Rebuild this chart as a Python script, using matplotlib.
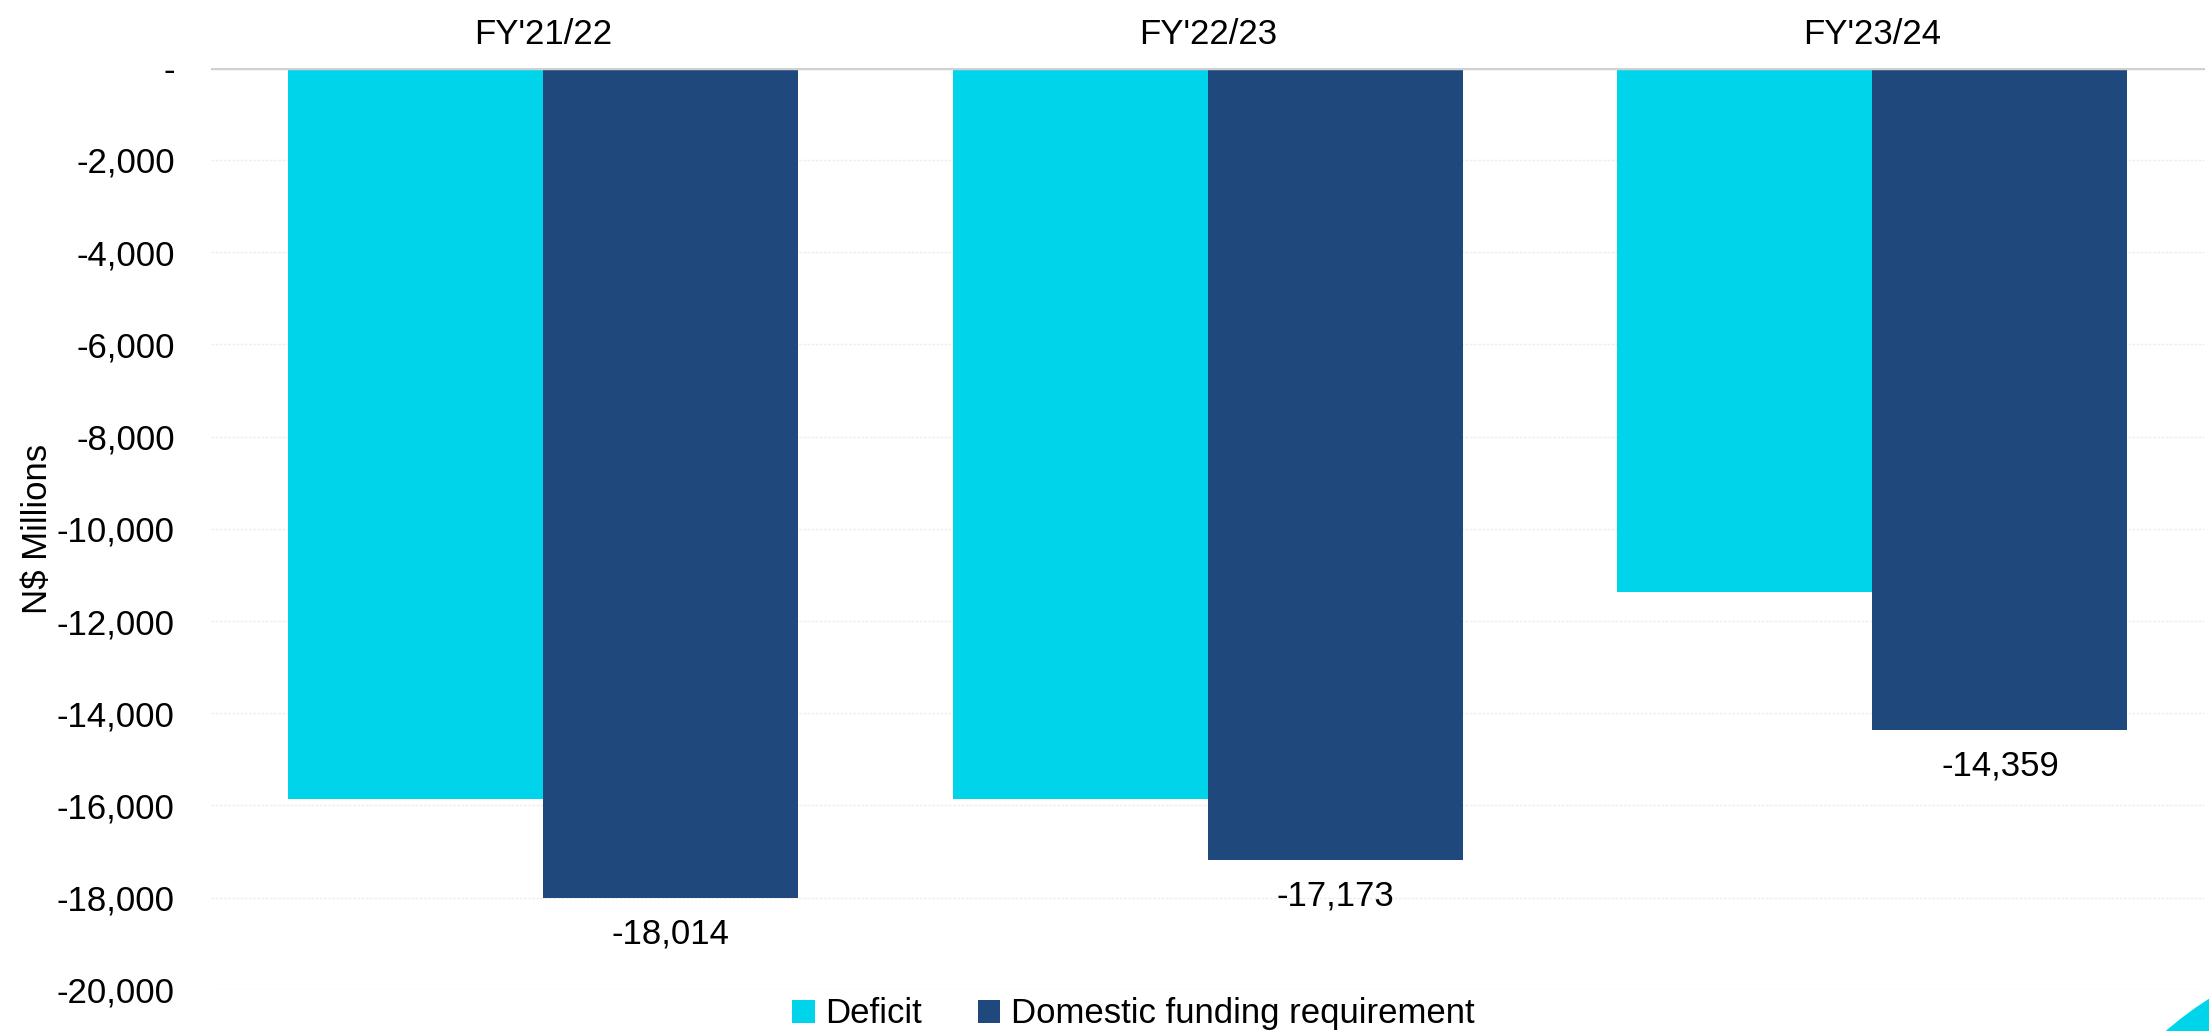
import numpy as np
import matplotlib
matplotlib.use("Agg")
import matplotlib.pyplot as plt
from matplotlib.patches import Circle
from matplotlib.ticker import FuncFormatter

plt.rcParams['font.family'] = ['Liberation Sans', 'DejaVu Sans']

# Data
years = ["FY'21/22", "FY'22/23", "FY'23/24"]
deficit = [-15850, -15850, -11360]
funding = [-18014, -17173, -14359]
series_names = ["Deficit", "Domestic funding requirement"]

cyan = "#00D4EA"
navy = "#1F497D"
fs = 25

fig = plt.figure(figsize=(22.09, 10.31), dpi=100)
ax = fig.add_axes([0.0955, 0.0398, 0.9025, 0.8946])

x = np.arange(len(years))
w = 0.384
ax.bar(x - w / 2, deficit, w, color=cyan, label=series_names[0], zorder=2)
bars = ax.bar(x + w / 2, funding, w, color=navy, label=series_names[1], zorder=2)

# value labels under the funding bars
for b, v in zip(bars, funding):
    ax.annotate(f"{v:,}", (b.get_x() + b.get_width() / 2, v),
                xytext=(0, -14), textcoords="offset points",
                ha="center", va="top", fontsize=fs)

ax.set_xlim(-0.5, 2.5)
ax.set_ylim(-20000, 0)
ax.set_yticks(np.arange(-20000, 1, 2000))
ax.yaxis.set_major_formatter(FuncFormatter(lambda v, p: "-" if v == 0 else f"{int(v):,}"))
ax.tick_params(axis="y", length=0, labelsize=fs, pad=26)

ax.xaxis.tick_top()
ax.set_xticks(x)
ax.set_xticklabels(years)
ax.tick_params(axis="x", length=0, labelsize=fs, pad=12)

ax.set_ylabel("N$ Millions", fontsize=fs, labelpad=2)

ax.grid(axis="y", color="#eeeeee", linewidth=1, linestyle=(0, (2, 1)), zorder=0)
ax.axhline(0, color="#d0d0d0", linewidth=2.5, zorder=3)
for s in ax.spines.values():
    s.set_visible(False)

fig.legend(loc="center", bbox_to_anchor=(0.513, 0.0165), ncol=2, frameon=False,
           fontsize=fs, handlelength=0.65, handleheight=0.65, handletextpad=0.3,
           columnspacing=1.6)

# decorative corner shape
fig.patches.append(Circle((2400, -269), 356, transform=None, color=cyan, zorder=0))

fig.savefig("out.png", dpi=100)
